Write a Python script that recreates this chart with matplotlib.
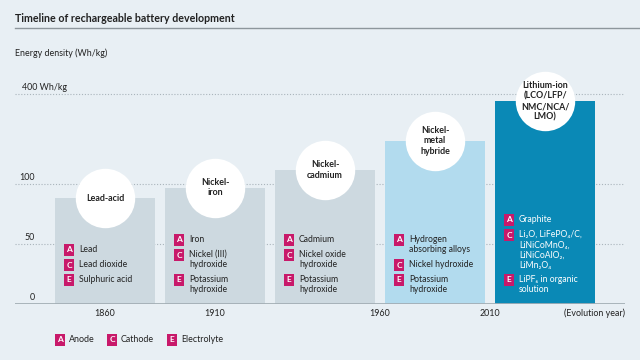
"""Timeline of rechargeable battery development - bar chart with broken y scale."""
import matplotlib
matplotlib.use("Agg")
import matplotlib.pyplot as plt
import numpy as np
from matplotlib.lines import Line2D

plt.rcParams["font.family"] = ["Lato", "DejaVu Sans"]

# ---- data ---------------------------------------------------------------
names = ["Lead-acid", "Nickel-\niron", "Nickel-\ncadmium",
         "Nickel-\nmetal\nhybride", "Lithium-ion\n(LCO/LFP/\nNMC/NCA/\nLMO)"]
density = [88, 97, 147, 244, 376]
anode = ["Lead", "Iron", "Cadmium", "Hydrogen\nabsorbing alloys", "Graphite"]
cathode = ["Lead dioxide", "Nickel (III)\nhydroxide", "Nickel oxide\nhydroxide",
           "Nickel hydroxide",
           "Li\u2082O, LiFePO\u2084/C,\nLiNiCoMnO\u2084,\nLiNiCoAlO\u2082,\nLiMn\u2082O\u2084"]
electrolyte = ["Sulphuric acid", "Potassium\nhydroxide", "Potassium\nhydroxide",
               "Potassium\nhydroxide", "LiPF\u2086 in organic\nsolution"]
year_pos = [0, 1, 2.5, 3.5]
year_labels = ["1860", "1910", "1960", "2010"]
ytick_vals = [0, 50, 100, 400]
ytick_labels = ["0", "50", "100", "400 Wh/kg"]

# ---- style --------------------------------------------------------------
BG = "#e8eff4"
GREY_BAR = "#cdd9e0"
bar_colors = [GREY_BAR, GREY_BAR, GREY_BAR, "#b2dbee", "#0a89b6"]
text_colors = ["#222222"] * 4 + ["white"]
BADGE = "#c8196a"
DARK = "#222222"


def fwd(v):
    v = np.asarray(v, dtype=float)
    return np.where(v <= 100, v, 100 + (v - 100) * 0.25)


def inv(u):
    u = np.asarray(u, dtype=float)
    return np.where(u <= 100, u, 100 + (u - 100) * 4.0)


fig = plt.figure(figsize=(6.4, 3.6), dpi=100, facecolor=BG)
W, H = 640, 360
ax = fig.add_axes([15 / W, (H - 304) / H, 610 / W, (304 - 88) / H])
ax.set_facecolor(BG)
ax.set_yscale("function", functions=(fwd, inv))
ax.set_ylim(0, 420)
ax.set_xlim(-0.818, 4.727)
for s in ax.spines.values():
    s.set_visible(False)
ax.set_xticks([])
ax.set_yticks([])
ax.minorticks_off()

# gridlines and baseline
for v in ytick_vals[1:]:
    ax.axhline(v, color="#a9b4bb", lw=0.8, ls=(0, (1, 1.6)), zorder=0)
ax.axhline(0, color="#a3aeb5", lw=2, zorder=3)

ytr = ax.get_yaxis_transform()
for v, lab in zip(ytick_vals, ytick_labels):
    if lab.startswith("400"):
        ax.annotate(lab, (7 / 610, v), xycoords=ytr, xytext=(0, 2),
                    textcoords="offset pixels", ha="left", va="bottom",
                    fontsize=6.4, color=DARK)
    else:
        ax.annotate(lab, (20 / 610, v), xycoords=ytr, xytext=(0, 2),
                    textcoords="offset pixels", ha="right", va="bottom",
                    fontsize=6.4, color=DARK)

x = np.arange(len(names))
bw = 100 / 110
ax.bar(x, density, width=bw, color=bar_colors, zorder=2)

# circles with technology names
ax.scatter(x, density, s=1830, color="white", zorder=4, clip_on=False,
           linewidths=0)
for xi, d, n in zip(x, density, names):
    ax.text(xi, d, n, ha="center", va="center", fontsize=6.4,
            fontweight="bold", color=DARK, zorder=5, linespacing=1.25)


def badge(xy, letter, off=(0, 0)):
    ax.annotate(letter, xy, xytext=off, textcoords="offset pixels",
                ha="center", va="center", fontsize=6, fontweight="bold",
                color="white", zorder=6,
                bbox=dict(boxstyle="square,pad=0.28", fc=BADGE, ec="none"))


# component lists inside the bars
LINE = 10
for i in range(len(names)):
    left = x[i] - bw / 2
    nA = anode[i].count("\n") + 1
    nC = cathode[i].count("\n") + 1
    e_c = 280
    c_first = 265 - LINE * (nC - 1)
    a_first = c_first - 15 - LINE * (nA - 1)
    for letter, txt, yc in (("A", anode[i], a_first), ("C", cathode[i], c_first),
                            ("E", electrolyte[i], e_c)):
        badge((left, 0), letter, off=(14, 304 - yc))
        ax.annotate(txt, (left, 0), xytext=(24, 304 - yc + 5),
                    textcoords="offset pixels", ha="left", va="top",
                    fontsize=6.2, color=text_colors[i], zorder=6,
                    linespacing=1.2)

# year axis
for p, lab in zip(year_pos, year_labels):
    ax.annotate(lab, (p, 0), xytext=(0, -9), textcoords="offset pixels",
                ha="center", va="center", fontsize=6.4, color=DARK)
ax.annotate("(Evolution year)", (1, 0), xycoords=ytr, xytext=(0, -9),
            textcoords="offset pixels", ha="right", va="center",
            fontsize=6.4, color=DARK)

# title, rule and axis label
fig.text(15 / W, 1 - 18 / H, "Timeline of rechargeable battery development",
         ha="left", va="center", fontsize=7.7, fontweight="bold", color=DARK)
fig.add_artist(Line2D([15 / W, 1.0], [1 - 28 / H, 1 - 28 / H],
                      color="#8d969c", lw=1))
fig.text(15 / W, 1 - 53 / H, "Energy density (Wh/kg)", ha="left",
         va="center", fontsize=6.4, color=DARK)

# legend
leg = [("A", "Anode", 60), ("C", "Cathode", 112), ("E", "Electrolyte", 172)]
for letter, lab, px in leg:
    fig.text(px / W, 1 - 340 / H, letter, ha="center", va="center",
             fontsize=6, fontweight="bold", color="white",
             bbox=dict(boxstyle="square,pad=0.28", fc=BADGE, ec="none"))
    fig.text((px + 9) / W, 1 - 340 / H, lab, ha="left", va="center",
             fontsize=6.4, color=DARK)

fig.savefig("out.png", dpi=100, facecolor=BG)
